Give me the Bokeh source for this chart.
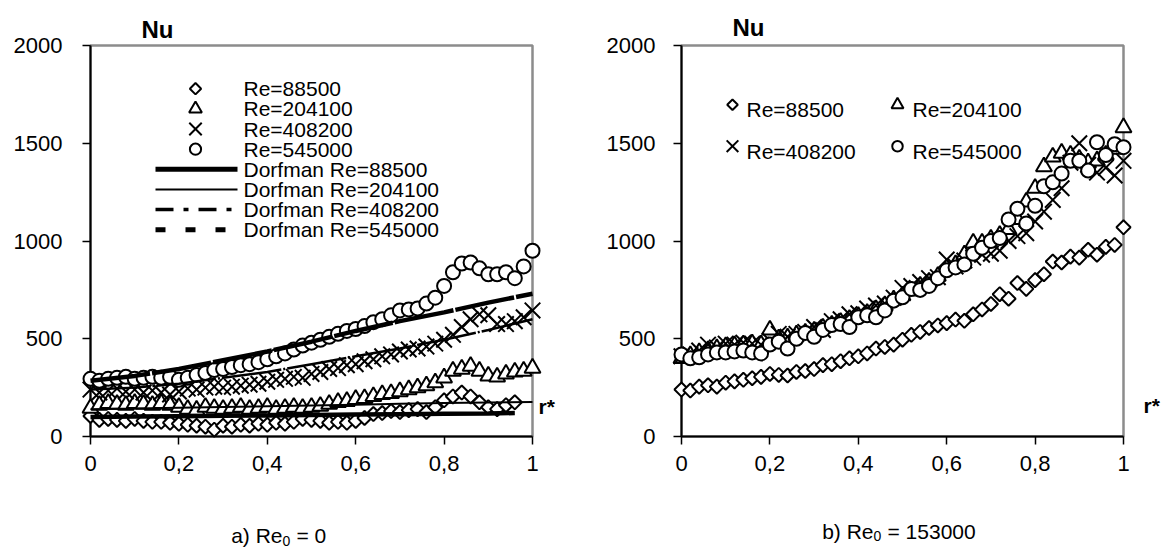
from bokeh.plotting import figure
from bokeh.models import Range1d, FixedTicker
from bokeh.layouts import row
from bokeh.embed import file_html
from bokeh.resources import INLINE
from bokeh.core.properties import value

FONT = "Liberation Sans"

# ---------------- data ----------------
r_full = [round(0.02 * i, 2) for i in range(51)]
r_to96 = [round(0.02 * i, 2) for i in range(49)]
r_dorf = [0.0, 0.1, 0.2, 0.3, 0.4, 0.5, 0.6, 0.7, 0.8, 0.9, 1.0]
r_dorf88 = [0.0, 0.1, 0.2, 0.3, 0.4, 0.5, 0.6, 0.7, 0.8, 0.9, 0.96]

series_names = ["Re=88500", "Re=204100", "Re=408200", "Re=545000"]
dorf_names = ["Dorfman Re=88500", "Dorfman Re=204100", "Dorfman Re=408200", "Dorfman Re=545000"]

# panel a) Re0 = 0
a_nu_88500 = [105, 85, 90, 85, 80, 90, 80, 75, 75, 70, 65, 60, 55, 50, 35, 55, 50, 60, 55, 65,
              60, 70, 65, 75, 90, 85, 80, 70, 75, 70, 80, 95, 115, 120, 130, 125, 135, 140, 125, 150,
              185, 205, 225, 205, 175, 150, 140, 160, 175]
a_nu_204100 = [145, 160, 170, 165, 160, 170, 165, 160, 170, 160, 150, 140, 135, 150, 145, 140, 145, 150, 140, 145,
               150, 140, 145, 150, 145, 150, 155, 165, 175, 180, 190, 195, 205, 215, 220, 230, 240, 250, 260, 275,
               300, 335, 345, 360, 335, 310, 305, 320, 330, 335, 350]
a_nu_408200 = [240, 225, 235, 245, 230, 240, 225, 235, 225, 215, 230, 245, 240, 250, 255, 250, 255, 260, 265, 270,
               280, 290, 295, 305, 300, 320, 330, 345, 350, 365, 370, 385, 395, 410, 420, 435, 445, 450, 460, 475,
               495, 520, 560, 600, 625, 620, 575, 575, 590, 610, 645]
a_nu_545000 = [295, 285, 295, 300, 305, 295, 300, 305, 300, 305, 290, 300, 315, 325, 340, 345, 355, 365, 370, 380,
               395, 410, 425, 445, 465, 480, 495, 510, 525, 540, 550, 565, 585, 600, 620, 645, 650, 655, 680, 710,
               770, 840, 885, 890, 860, 830, 830, 840, 810, 870, 950]
a_dorf_88500 = [100, 102, 104, 106, 108, 110, 112, 114, 116, 118, 120]
a_dorf_204100 = [140, 143, 147, 151, 155, 159, 163, 167, 171, 174, 177]
a_dorf_408200 = [240, 250, 270, 300, 330, 370, 410, 450, 495, 545, 600]
a_dorf_545000 = [285, 310, 345, 390, 435, 485, 540, 590, 635, 685, 730]

# panel b) Re0 = 153000
b_nu_88500 = [240, 235, 255, 262, 255, 275, 282, 290, 298, 305, 320, 315, 312, 330, 335, 345, 365, 370, 385, 400,
              410, 425, 450, 458, 470, 495, 520, 535, 555, 568, 580, 598, 592, 625, 650, 678, 728, 705, 785, 755,
              800, 830, 895, 890, 920, 915, 955, 930, 970, 980, 1070]
b_nu_204100 = [400, 415, 430, 440, 450, 460, 465, 470, 475, 470, 545, 500, 505, 520, 530, 540, 555, 570, 585, 600,
               615, 630, 650, 670, 700, 720, 745, 770, 790, 820, 860, 880, 930, 990, 990, 1010, 1030, 1060, 1110, 1200,
               1270, 1380, 1430, 1450, 1440, 1420, 1400, 1410, 1440, 1470, 1580]
b_nu_408200 = [410, 420, 440, 470, 455, 475, 470, 480, 475, 470, 490, 525, 510, 525, 535, 560, 545, 590, 600, 625,
               630, 655, 670, 680, 710, 760, 770, 790, 810, 815, 905, 870, 900, 915, 930, 935, 950, 1000, 1025, 1040,
               1100, 1150, 1210, 1270, 1400, 1500, 1390, 1350, 1375, 1335, 1410]
b_nu_545000 = [420, 400, 405, 420, 430, 430, 435, 440, 430, 425, 470, 485, 450, 500, 530, 510, 545, 570, 575, 560,
               610, 620, 610, 645, 695, 712, 755, 750, 770, 810, 850, 865, 880, 935, 965, 1000, 1015, 1110, 1165, 1090,
               1180, 1280, 1300, 1345, 1410, 1410, 1360, 1505, 1440, 1495, 1480]

x_ticks = [0, 0.2, 0.4, 0.6, 0.8, 1.0]
x_tick_labels = ["0", "0,2", "0,4", "0,6", "0,8", "1"]
y_ticks = [0, 500, 1000, 1500, 2000]

# ---------------- layout (page pixels) ----------------
A = dict(W=600, L=90, R=532, T=38, B=436, off=0)
Bp = dict(W=565, L=681, R=1123, T=45, B=441, off=600)
H = 555


def px2x(g, px):
    return (px - g["L"]) / (g["R"] - g["L"])


def py2y(g, py):
    return (g["B"] - py) * 2000.0 / (g["B"] - g["T"])


def make_fig(g, ystand):
    p = figure(width=g["W"], height=H, output_backend="svg", toolbar_location=None,
               x_range=Range1d(0, 1), y_range=Range1d(0, 2000),
               min_border_left=g["L"] - g["off"], min_border_right=g["off"] + g["W"] - g["R"],
               min_border_top=g["T"], min_border_bottom=H - g["B"])
    p.grid.visible = False
    p.outline_line_color = "#8c8c8c"
    p.outline_line_width = 2.5
    p.background_fill_color = "white"
    p.border_fill_color = "white"
    for ax in (p.xaxis[0], p.yaxis[0]):
        ax.axis_line_color = "black"
        ax.axis_line_width = 2
        ax.major_tick_line_color = "black"
        ax.major_tick_line_width = 1.5
        ax.major_tick_out = 8
        ax.major_tick_in = 0
        ax.minor_tick_line_color = None
        ax.major_label_text_font = FONT
        ax.major_label_text_font_size = "22px"
        ax.major_label_text_color = "black"
    p.xaxis.ticker = FixedTicker(ticks=x_ticks)
    p.xaxis.major_label_overrides = {t: s for t, s in zip(x_ticks, x_tick_labels)}
    p.xaxis.major_label_standoff = 11
    p.yaxis.ticker = FixedTicker(ticks=y_ticks)
    p.yaxis.major_label_standoff = ystand
    return p


MK = dict(line_color="black", fill_color="white", line_width=2)


def marker(p, r, nu, kind, scale=1.0):
    if kind == "diamond":
        rr = p.scatter(r, nu, marker="square", angle=0.785398, size=10 * scale, **MK)
    elif kind == "triangle":
        rr = p.scatter(r, nu, marker="triangle", size=16 * scale, **MK)
    elif kind == "x":
        rr = p.scatter(r, nu, marker="x", size=22 * scale, line_color="black", line_width=2)
    else:
        rr = p.scatter(r, nu, marker="circle", size=14 * scale, **MK)
    rr.level = "overlay"
    return rr


def label(p, x, y, text, size="21px", bold=False, align="left", baseline="middle"):
    t = p.text(x=[x], y=[y], text=[text], text_font=value(FONT), text_font_size=size,
               text_font_style="bold" if bold else "normal", text_color="black",
               text_align=align, text_baseline=baseline)
    t.level = "overlay"
    return t


kinds = ["diamond", "triangle", "x", "circle"]
dorf_legend_styles = [dict(line_width=5, line_dash="solid"),
                      dict(line_width=2, line_dash="solid"),
                      dict(line_width=3.5, line_dash="18 10 5 10"),
                      dict(line_width=5, line_dash="10 20")]
dorf_plot_styles = [dict(line_width=4.5, line_dash="solid"),
                    dict(line_width=2, line_dash="solid"),
                    dict(line_width=2.5, line_dash="60 2 2 2"),
                    dict(line_width=4.5, line_dash="60 2")]

# ---------------- panel a ----------------
pa = make_fig(A, 20)
a_series = [(r_to96, a_nu_88500), (r_full, a_nu_204100), (r_full, a_nu_408200), (r_full, a_nu_545000)]
for (r, nu), k in zip(a_series, kinds):
    marker(pa, r, nu, k)
a_dorf = [(r_dorf88, a_dorf_88500), (r_dorf, a_dorf_204100), (r_dorf, a_dorf_408200), (r_dorf, a_dorf_545000)]
for (r, nu), st in zip(a_dorf, dorf_plot_styles):
    ln = pa.line(r, nu, line_color="black", **st)
    ln.level = "overlay"

# legend a
rows_a = [82 + 20.5 * i for i in range(8)]
for i, (name, k) in enumerate(zip(series_names, kinds)):
    yy = py2y(A, rows_a[i])
    marker(pa, [px2x(A, 195)], [yy], k, scale=0.8)
    label(pa, px2x(A, 243), yy, name)
for j, (name, st) in enumerate(zip(dorf_names, dorf_legend_styles)):
    yy = py2y(A, rows_a[4 + j])
    pa.line([px2x(A, 155), px2x(A, 237)], [yy, yy], line_color="black", **st)
    label(pa, px2x(A, 243), yy, name)

label(pa, px2x(A, 141), py2y(A, 22), "Nu", size="24px", bold=True)
label(pa, px2x(A, 538), py2y(A, 405), "r*", size="21px", bold=True)
label(pa, px2x(A, 282), py2y(A, 537), "a) Re", size="21px", align="right", baseline="alphabetic")
label(pa, px2x(A, 282), py2y(A, 542), "0", size="14px", align="left", baseline="alphabetic")
label(pa, px2x(A, 296), py2y(A, 537), "= 0", size="21px", align="left", baseline="alphabetic")

# ---------------- panel b ----------------
pb = make_fig(Bp, 18)
b_series = [(r_full, b_nu_88500), (r_full, b_nu_204100), (r_full, b_nu_408200), (r_full, b_nu_545000)]
for (r, nu), k in zip(b_series, kinds):
    marker(pb, r, nu, k)

leg_b = [(732, 105, 746, 110), (897, 105, 912, 110), (732, 147, 746, 152), (897, 147, 912, 152)]
for (mx, my, tx, ty), name, k in zip(leg_b, series_names, kinds):
    marker(pb, [px2x(Bp, mx)], [py2y(Bp, my)], k, scale=0.75)
    label(pb, px2x(Bp, tx), py2y(Bp, ty), name)

label(pb, px2x(Bp, 732), py2y(Bp, 27), "Nu", size="24px", bold=True)
label(pb, px2x(Bp, 1143), py2y(Bp, 410), "r*", size="21px", bold=True)
label(pb, px2x(Bp, 873), py2y(Bp, 537), "b) Re", size="21px", align="right", baseline="alphabetic")
label(pb, px2x(Bp, 873), py2y(Bp, 542), "0", size="14px", align="left", baseline="alphabetic")
label(pb, px2x(Bp, 887), py2y(Bp, 537), "= 153000", size="21px", align="left", baseline="alphabetic")

layout = row(pa, pb)
open("out.html", "w").write(file_html(layout, INLINE))
